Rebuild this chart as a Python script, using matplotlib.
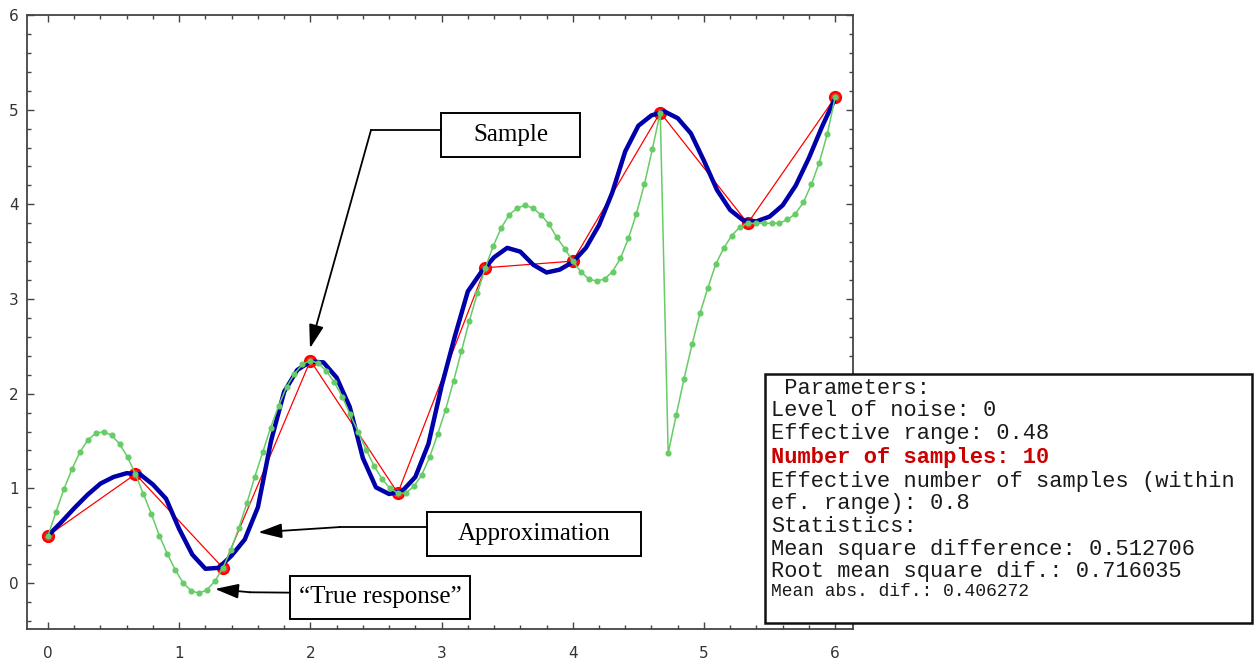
import numpy as np
import matplotlib
matplotlib.use('Agg')
import matplotlib.pyplot as plt
from matplotlib.patches import Rectangle
from matplotlib.ticker import MultipleLocator

# evaluation grid (100 points on [0, 6])
grid_x = np.linspace(0, 6, 100)

# "true response" evaluated on the grid
true_y = [0.50, 0.75, 0.99, 1.20, 1.38, 1.51, 1.58, 1.60, 1.56, 1.47,
          1.33, 1.15, 0.94, 0.73, 0.50, 0.31, 0.14, 0.00, -0.08, -0.11,
          -0.07, 0.02, 0.16, 0.35, 0.58, 0.84, 1.12, 1.38, 1.64, 1.87,
          2.07, 2.21, 2.31, 2.35, 2.32, 2.24, 2.12, 1.97, 1.78, 1.60,
          1.41, 1.24, 1.10, 1.00, 0.95, 0.95, 1.02, 1.14, 1.33, 1.57,
          1.83, 2.13, 2.45, 2.77, 3.06, 3.33, 3.56, 3.75, 3.89, 3.96,
          3.99, 3.96, 3.89, 3.79, 3.65, 3.53, 3.40, 3.29, 3.21, 3.19,
          3.21, 3.29, 3.43, 3.64, 3.90, 4.21, 4.58, 4.97, 1.37, 1.77,
          2.16, 2.52, 2.85, 3.12, 3.37, 3.54, 3.67, 3.76, 3.80, 3.80,
          3.80, 3.80, 3.80, 3.84, 3.90, 4.02, 4.21, 4.44, 4.74, 5.13]

# samples
sample_x = np.linspace(0, 6, 10)
sample_y = [0.50, 1.15, 0.16, 2.35, 0.95, 3.33, 3.40, 4.97, 3.80, 5.13]

# approximation
approx_x = np.round(np.arange(0, 6.01, 0.1), 2)
approx_y = [0.50, 0.64, 0.79, 0.93, 1.05, 1.12, 1.16, 1.15, 1.04, 0.89,
            0.57, 0.30, 0.15, 0.16, 0.29, 0.46, 0.80, 1.50, 2.02, 2.25,
            2.34, 2.33, 2.17, 1.86, 1.32, 1.01, 0.94, 0.97, 1.12, 1.47,
            2.08, 2.60, 3.08, 3.28, 3.44, 3.54, 3.50, 3.36, 3.28, 3.31,
            3.39, 3.54, 3.78, 4.12, 4.56, 4.83, 4.94, 4.98, 4.91, 4.75,
            4.46, 4.15, 3.94, 3.83, 3.82, 3.87, 3.99, 4.20, 4.49, 4.82,
            5.12]

params_lines = [" Parameters:",
                "Level of noise: 0",
                "Effective range: 0.48",
                "Number of samples: 10",
                "Effective number of samples (within",
                "ef. range): 0.8",
                "Statistics:",
                "Mean square difference: 0.512706",
                "Root mean square dif.: 0.716035",
                "Mean abs. dif.: 0.406272"]
params_y = [389, 411, 434, 457, 482, 504, 526, 549, 571, 592]

W, H = 1255, 659
fig = plt.figure(figsize=(W / 100, H / 100), dpi=100)
ax = fig.add_axes([27 / W, 1 - 629 / H, (853 - 27) / W, (629 - 15) / H])

ax.plot(sample_x, sample_y, color='#ff0000', lw=0.9, zorder=2)
ax.plot(sample_x, sample_y, 'o', ms=8, mfc='#ff2020', mec='#ff0000', mew=1.5, zorder=2)
ax.plot(approx_x, approx_y, color='#0000aa', lw=3.2, solid_joinstyle='round', zorder=3)
ax.plot(grid_x, true_y, color='#66cc66', lw=1.1, marker='o', ms=3.4,
        mec='#66cc66', mfc='#66cc66', zorder=4)

ax.set_xlim(-0.16, 6.136)
ax.set_ylim(-0.486, 6.0)
ax.xaxis.set_major_locator(MultipleLocator(1))
ax.xaxis.set_minor_locator(MultipleLocator(0.2))
ax.yaxis.set_major_locator(MultipleLocator(1))
ax.yaxis.set_minor_locator(MultipleLocator(0.2))
ax.tick_params(which='both', direction='in', top=True, right=True,
               color='#444444', width=1)
ax.tick_params(which='major', length=5, labelsize=11, labelcolor='#333333')
ax.tick_params(which='minor', length=3)
ax.tick_params(axis='x', pad=12)
ax.tick_params(axis='y', pad=6)
for s in ax.spines.values():
    s.set_color('#444444')
    s.set_linewidth(1.3)


def label_box(x0, x1, y0, y1, text):
    ax.add_patch(Rectangle((x0, y0), x1 - x0, y1 - y0, fill=True, fc='white',
                           ec='black', lw=1.4, zorder=6))
    ax.text((x0 + x1) / 2, (y0 + y1) / 2, text, ha='center', va='center',
            family='Liberation Serif', fontsize=18, zorder=7)


def pointer(pts):
    # polyline ending with an arrowhead
    xs = [p[0] for p in pts[:-1]]
    ys = [p[1] for p in pts[:-1]]
    ax.plot(xs, ys, color='black', lw=1.3, zorder=6)
    ax.annotate('', xy=pts[-1], xytext=pts[-2], zorder=6,
                arrowprops=dict(arrowstyle='-|>,head_length=0.8,head_width=0.25',
                                color='black', lw=1.3,
                                mutation_scale=18, shrinkA=0, shrinkB=0))


label_box(2.995, 4.055, 4.498, 4.963, 'Sample')
pointer([(2.995, 4.784), (2.462, 4.784), (1.997, 2.48)])

label_box(2.889, 4.52, 0.285, 0.750, 'Approximation')
pointer([(2.889, 0.591), (2.226, 0.591), (1.603, 0.535)])

label_box(1.845, 3.216, -0.380, 0.074, '\u201cTrue response\u201d')
pointer([(1.845, -0.102), (1.540, -0.098), (1.273, -0.063)])

# parameters panel
fig.add_artist(Rectangle((765 / W, 1 - 623 / H), (1252 - 765) / W, (623 - 374) / H,
                         transform=fig.transFigure, fc='white', ec='#111111',
                         lw=1.8, zorder=5))
for i, (line, py) in enumerate(zip(params_lines, params_y)):
    kw = dict(family='Liberation Mono', fontsize=15.8, color='#1a1a1a', zorder=6)
    if i == 3:
        kw.update(color='#cc0000', weight='bold')
    if i == len(params_lines) - 1:
        kw.update(fontsize=13)
    fig.text(771 / W, 1 - py / H, line, ha='left', va='center', **kw)

fig.savefig('out.png', dpi=100)
